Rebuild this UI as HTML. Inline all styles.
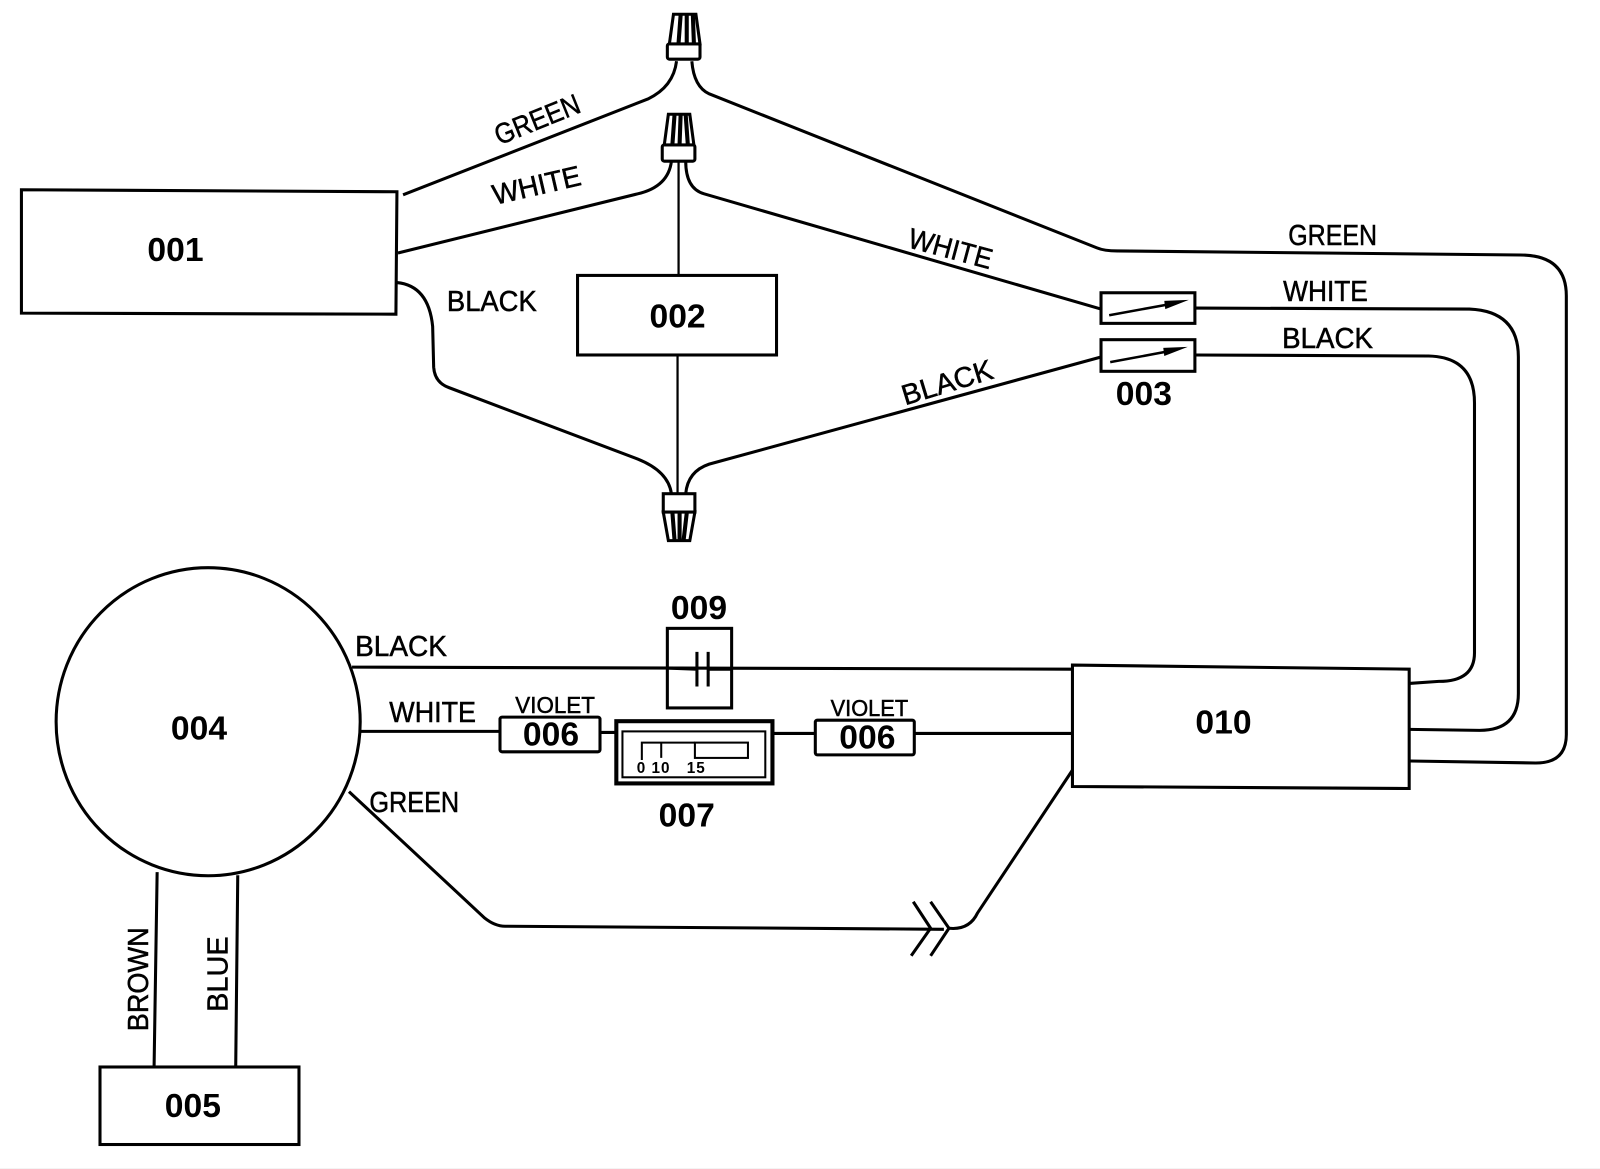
<!DOCTYPE html>
<html><head><meta charset="utf-8"><style>
html,body{margin:0;padding:0;background:#fff;width:1600px;height:1169px;overflow:hidden}
svg{display:block}
.n{font:bold 33px "Liberation Sans",sans-serif;fill:#000;text-anchor:middle}
.l{font:28px "Liberation Sans",sans-serif;fill:#000;stroke:#000;stroke-width:.5;text-anchor:middle}
.s{font-size:23px}
.w{fill:none;stroke:#000;stroke-width:3}
.b{fill:#fff;stroke:#000;stroke-width:3}
</style></head><body>
<svg width="1600" height="1169" viewBox="0 0 1568 1146" xmlns="http://www.w3.org/2000/svg" preserveAspectRatio="none">
<rect width="1568" height="1146" fill="#fff"/>
<rect y="1145" width="1568" height="1" fill="#f4f4f4"/>
<g class="w">
<path d="M395,191 L635,97 Q660,85 663,60"/>
<path d="M678,60 Q680,85 695,92 L1075,243 Q1082,246 1095,246 L1490,250 Q1535,250 1535,290 L1535,720 Q1535,748 1505,748 L1382,746"/>
<path d="M390,248 L625,190 Q655,183 658,158"/>
<path d="M665,158 L665,270" stroke-width="2.2"/>
<path d="M672,158 Q672,185 690,190 L1079,303"/>
<path d="M1171,302 L1440,303 Q1488,305 1488,350 L1488,680 Q1488,716 1450,716 L1381,715"/>
<path d="M1171,348 L1400,349 Q1445,350 1445,395 L1445,640 Q1445,668 1410,668 L1381,670"/>
<path d="M389,277 Q420,280 424,320 L425,360 Q426,375 440,380 L625,450 Q655,462 658,484"/>
<path d="M664,348 L664,484" stroke-width="2.2"/>
<path d="M672,484 Q674,462 695,455 L1079,350"/>
<path d="M345,654 L1051,656"/>
<path d="M353,717 L490,717 M588,718 L604,718 M757,719 L799,719 M896,719 L1051,719"/>
<path d="M342,776 L475,900 Q485,908 495,908 L925,911"/>
<path d="M895,884 L912,910 L893,937 M912,884 L930,910 L912,937"/>
<path d="M930,910 Q950,912 958,895 L1051,755"/>
<path d="M154,855 L151,1046 M233,858 L231,1046"/>
</g>
<g class="b">
<polygon points="21,186 389,188 388,308 21,307"/>
<rect x="566" y="270" width="195" height="78"/>
<rect x="98" y="1046" width="195" height="76"/>
<polygon points="1051,652 1381,656 1381,773 1051,771"/>
<ellipse cx="204" cy="707.5" rx="149" ry="151"/>
<rect x="1079" y="287" width="92" height="30"/>
<rect x="1079" y="333" width="92" height="31"/>
<rect x="490" y="703" width="98" height="34" rx="2"/>
<rect x="799" y="706" width="97" height="34" rx="2"/>
<rect x="604" y="707" width="153" height="61" stroke-width="4"/>
<rect x="610" y="717" width="140" height="45" stroke-width="2"/>
</g>
<rect x="654" y="616" width="63" height="78" fill="none" stroke="#000" stroke-width="3"/>
<path d="M654,655 L683,656 M694,656 L717,656 M683,639 L683,673 M694,639 L694,673" fill="none" stroke="#000" stroke-width="3"/>
<path d="M1087,309 L1142,299" stroke="#000" stroke-width="2.5"/><polygon points="1141,295 1165,294 1142,303"/>
<path d="M1088,355 L1142,345" stroke="#000" stroke-width="2.5"/><polygon points="1140,341 1164,340 1141,349"/>
<!-- wire nuts -->
<g class="b">
<rect x="654" y="43" width="32" height="15" rx="2"/><path d="M656,43 L660,14 L682,14 L686,43 Z"/>
<path d="M667,15 L665,42 M673,15 L673,42 M679,15 L680,42" fill="none" stroke-width="4"/>
<rect x="649" y="142" width="32" height="16" rx="2"/><path d="M651,142 L655,112 L676,112 L680,142 Z"/>
<path d="M661,113 L659,141 M667,113 L666,141 M672,113 L674,141" fill="none" stroke-width="4"/>
<rect x="650" y="484" width="31" height="18"/><path d="M650,502 L655,530 L676,530 L681,502 Z"/>
<path d="M659,503 L661,529 M666,503 L666,529 M673,503 L670,529" fill="none" stroke-width="4"/>
</g>
<!-- 007 details -->
<g fill="none" stroke="#000" stroke-width="2">
<path d="M629,745 L629,728 L681,728 M648,728 L648,743"/>
<rect x="681" y="728" width="52" height="15"/>
</g>
<text x="624" y="758" font-family="Liberation Sans" font-weight="bold" font-size="15" letter-spacing="1">0 10</text>
<text x="673" y="758" font-family="Liberation Sans" font-weight="bold" font-size="15" letter-spacing="1">15</text>
<!-- numbers -->
<text class="n" x="172" y="256">001</text>
<text class="n" x="664" y="321">002</text>
<text class="n" x="1121" y="397">003</text>
<text class="n" x="195" y="725">004</text>
<text class="n" x="189" y="1095">005</text>
<text class="n" x="540" y="731">006</text>
<text class="n" x="850" y="734">006</text>
<text class="n" x="673" y="810">007</text>
<text class="n" x="685" y="607">009</text>
<text class="n" x="1199" y="719">010</text>
<!-- wire labels -->
<text class="l" transform="translate(530,126) rotate(-22)" textLength="88" lengthAdjust="spacingAndGlyphs">GREEN</text>
<text class="l" transform="translate(528,191) rotate(-13)" textLength="88" lengthAdjust="spacingAndGlyphs">WHITE</text>
<text class="l" x="482" y="305" textLength="88" lengthAdjust="spacingAndGlyphs">BLACK</text>
<text class="l" transform="translate(929,253) rotate(15)" textLength="84" lengthAdjust="spacingAndGlyphs">WHITE</text>
<text class="l" transform="translate(931,384) rotate(-17)" textLength="92" lengthAdjust="spacingAndGlyphs">BLACK</text>
<text class="l" x="1306" y="240" textLength="87" lengthAdjust="spacingAndGlyphs">GREEN</text>
<text class="l" x="1299" y="295" textLength="83" lengthAdjust="spacingAndGlyphs">WHITE</text>
<text class="l" x="1301" y="341" textLength="89" lengthAdjust="spacingAndGlyphs">BLACK</text>
<text class="l" x="393" y="643" textLength="90" lengthAdjust="spacingAndGlyphs">BLACK</text>
<text class="l" x="424" y="708" textLength="85" lengthAdjust="spacingAndGlyphs">WHITE</text>
<text class="l s" x="544" y="699" textLength="78" lengthAdjust="spacingAndGlyphs">VIOLET</text>
<text class="l s" x="852" y="702" textLength="76" lengthAdjust="spacingAndGlyphs">VIOLET</text>
<text class="l" x="406" y="796" textLength="88" lengthAdjust="spacingAndGlyphs">GREEN</text>
<text class="l" transform="translate(145,960) rotate(-90)" textLength="102" lengthAdjust="spacingAndGlyphs">BROWN</text>
<text class="l" transform="translate(223,955) rotate(-90)" textLength="74" lengthAdjust="spacingAndGlyphs">BLUE</text>
</svg>
</body></html>
